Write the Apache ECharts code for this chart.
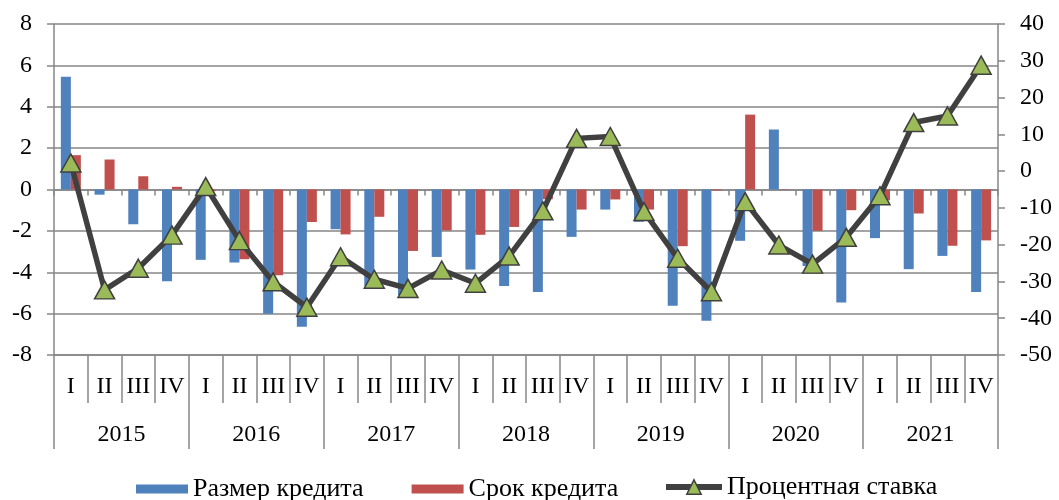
<!DOCTYPE html>
<html>
<head>
<meta charset="utf-8">
<script src="https://cdn.jsdelivr.net/npm/echarts@6/dist/echarts.min.js"></script>
<style>
  html, body { margin: 0; padding: 0; background: #fff; }
  #chart { width: 1059px; height: 500px; }
</style>
</head>
<body>
<div id="chart"></div>
<script>
// кварталы и годы
var quarters = ['I', 'II', 'III', 'IV', 'I', 'II', 'III', 'IV', 'I', 'II', 'III', 'IV', 'I', 'II', 'III', 'IV',
                'I', 'II', 'III', 'IV', 'I', 'II', 'III', 'IV', 'I', 'II', 'III', 'IV'];
var years = ['2015', '2016', '2017', '2018', '2019', '2020', '2021'];

// Размер кредита (левая ось)
var sizeValues = [5.45, -0.25, -1.68, -4.43, -3.40, -3.53, -6.00, -6.64,
                  -1.92, -4.67, -5.10, -3.26, -3.87, -4.66, -4.95, -2.29,
                  -0.97, -1.56, -5.62, -6.35, -2.48, 2.90, -3.70, -5.46,
                  -2.35, -3.85, -3.21, -4.95];
// Срок кредита (левая ось)
var termValues = [1.66, 1.45, 0.64, 0.13, -0.08, -3.37, -4.14, -1.57,
                  -2.17, -1.32, -2.97, -1.98, -2.19, -1.81, -0.47, -0.97,
                  -0.48, -0.97, -2.74, -0.05, 3.62, 0.02, -2.00, -1.00,
                  -0.52, -1.16, -2.72, -2.46];
// Процентная ставка (правая ось)
var rateValues = [2.2, -32.3, -26.4, -17.4, -4.2, -18.9, -30.1, -37.0,
                  -23.3, -29.4, -31.9, -26.9, -30.5, -23.1, -10.8, 8.9,
                  9.4, -11.0, -23.7, -32.8, -8.3, -20.1, -25.3, -18.0,
                  -6.7, 13.2, 15.0, 28.8];

var leftTicks = { min: -8, max: 8, step: 2 };
var rightTicks = { min: -50, max: 40, step: 10 };

var axisColor = '#868686';
var font = 'Liberation Serif';
var legendFont = { fontFamily: font, fontSize: 26, color: '#000' };

var chart = echarts.init(document.getElementById('chart'));
var option = {
    animation: false,
    textStyle: { fontFamily: font, color: '#000' },
    grid: { left: 54, right: 61, top: 24, bottom: 145, containLabel: false },
    legend: [
        {   // столбцы
            top: 476,
            left: 136,
            padding: 0,
            itemWidth: 52,
            itemHeight: 9,
            itemGap: 48,
            textStyle: legendFont,
            data: [
                { name: 'Размер кредита', icon: 'rect' },
                { name: 'Срок кредита', icon: 'rect' }
            ]
        },
        {   // линия
            top: 474,
            left: 663,
            padding: 0,
            itemWidth: 56,
            itemHeight: 18,
            textStyle: legendFont,
            lineStyle: { color: '#404040', width: 6 },
            itemStyle: { color: '#9BBB59', borderColor: '#404040', borderWidth: 1.5 },
            data: [{ name: 'Процентная ставка' }]
        }
    ],
    xAxis: [
        {   // ось на нуле
            type: 'category',
            data: quarters,
            axisLine: { onZero: true, lineStyle: { color: axisColor, width: 1.5 } },
            axisTick: { show: true, interval: 0, length: 6, lineStyle: { color: axisColor, width: 1.5 } },
            axisLabel: { show: false },
            splitLine: { show: false }
        },
        {   // кварталы снизу
            type: 'category',
            data: quarters,
            position: 'bottom',
            axisLine: { show: true, onZero: false, lineStyle: { color: axisColor, width: 1.5 } },
            axisTick: { show: true, interval: 0, length: 48, lineStyle: { color: axisColor, width: 1.5 } },
            axisLabel: { interval: 0, fontFamily: font, fontSize: 24, color: '#000', margin: 20 },
            splitLine: { show: false }
        },
        {   // годы
            type: 'category',
            data: years,
            position: 'bottom',
            axisLine: { show: false, onZero: false },
            axisTick: { show: true, interval: 0, length: 94, lineStyle: { color: axisColor, width: 1.5 } },
            axisLabel: { interval: 0, fontFamily: font, fontSize: 24, color: '#000', margin: 68 },
            splitLine: { show: false }
        }
    ],
    yAxis: [
        {
            type: 'value',
            min: leftTicks.min,
            max: leftTicks.max,
            interval: leftTicks.step,
            axisLine: { show: true, lineStyle: { color: axisColor, width: 1.5 } },
            axisTick: { show: true, length: 7, lineStyle: { color: axisColor, width: 1.5 } },
            axisLabel: { fontFamily: font, fontSize: 24, color: '#000', margin: 22 },
            splitLine: { lineStyle: { color: axisColor, width: 1.5 } }
        },
        {
            type: 'value',
            position: 'right',
            min: rightTicks.min,
            max: rightTicks.max,
            interval: rightTicks.step,
            axisLine: { show: true, lineStyle: { color: axisColor, width: 1.5 } },
            axisTick: { show: true, length: 7, lineStyle: { color: axisColor, width: 1.5 } },
            axisLabel: { fontFamily: font, fontSize: 24, color: '#000', margin: 22 },
            splitLine: { show: false }
        }
    ],
    series: [
        {
            name: 'Размер кредита',
            type: 'bar',
            xAxisIndex: 0,
            yAxisIndex: 0,
            data: sizeValues,
            barWidth: 10,
            barGap: '0%',
            itemStyle: { color: '#4F81BD' }
        },
        {
            name: 'Срок кредита',
            type: 'bar',
            xAxisIndex: 0,
            yAxisIndex: 0,
            data: termValues,
            barWidth: 10,
            barGap: '0%',
            itemStyle: { color: '#C0504D' }
        },
        {
            name: 'Процентная ставка',
            type: 'line',
            xAxisIndex: 0,
            yAxisIndex: 1,
            data: rateValues,
            symbol: 'triangle',
            symbolSize: [20, 18],
            lineStyle: { color: '#404040', width: 5.5 },
            itemStyle: { color: '#9BBB59', borderColor: '#404040', borderWidth: 1.5 },
            z: 5
        }
    ]
};
chart.setOption(option);
</script>
</body>
</html>
